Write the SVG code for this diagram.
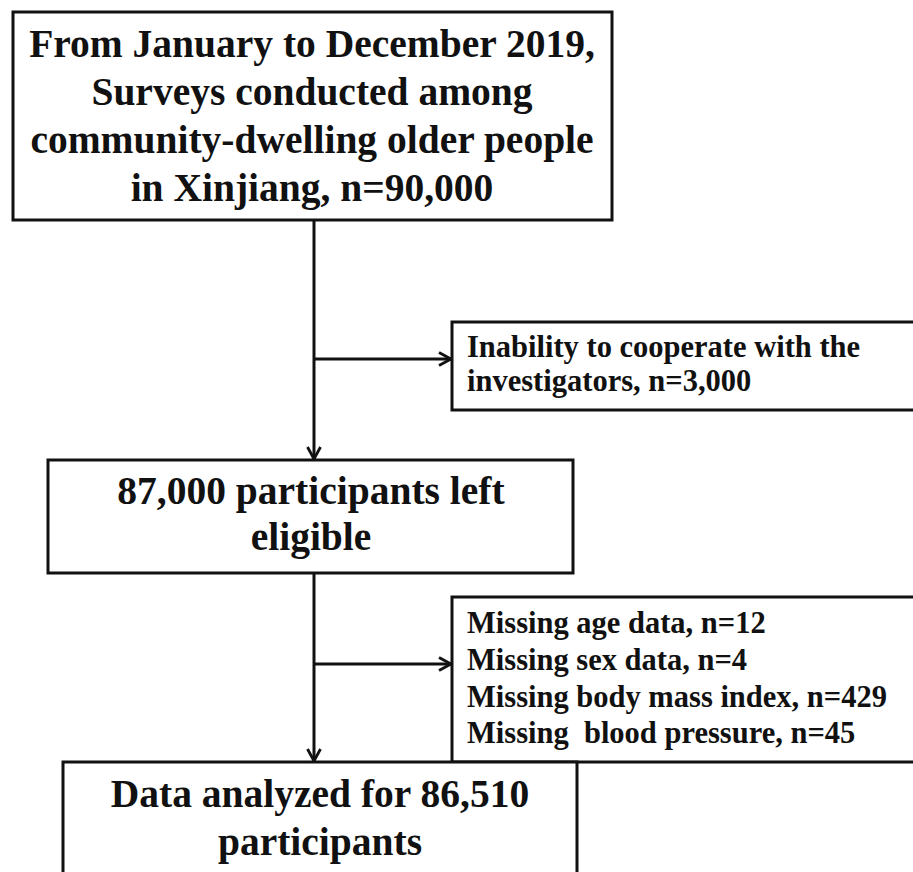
<svg xmlns="http://www.w3.org/2000/svg" width="913" height="872" viewBox="0 0 913 872">
<style>
.box{fill:#fff;stroke:#111;stroke-width:3}
.t{font-family:"Liberation Serif","Times New Roman",serif;font-weight:bold;fill:#111}
.big{font-size:39.5px;text-anchor:middle}
.sm{font-size:30.5px}
.ln{stroke:#111;stroke-width:3;fill:none}
</style>
<defs>
<marker id="ah" viewBox="0 0 16 16" refX="14" refY="8" markerWidth="16" markerHeight="16" markerUnits="userSpaceOnUse" orient="auto">
<path d="M2,1.5 L14,8 L2,14.5" fill="none" stroke="#111" stroke-width="2.8"/>
</marker>
</defs>
<rect width="913" height="872" fill="#fff"/>
<g id="connectors">
<line class="ln" x1="314" y1="220" x2="314" y2="459" marker-end="url(#ah)"/>
<line class="ln" x1="314" y1="359" x2="451" y2="359" marker-end="url(#ah)"/>
<line class="ln" x1="314" y1="573" x2="314" y2="761" marker-end="url(#ah)"/>
<line class="ln" x1="314" y1="664" x2="451" y2="664" marker-end="url(#ah)"/>
</g>
<g id="n1">
<rect class="box" x="13" y="12" width="599" height="208"/>
<text class="t big" x="312" y="57">From January to December 2019,</text>
<text class="t big" x="312" y="105">Surveys conducted among</text>
<text class="t big" x="312" y="153">community-dwelling older people</text>
<text class="t big" x="312" y="201">in Xinjiang, n=90,000</text>
</g>
<g id="n2">
<rect class="box" x="452" y="322" width="470" height="88"/>
<text class="t sm" x="467" y="357">Inability to cooperate with the</text>
<text class="t sm" x="467" y="391">investigators, n=3,000</text>
</g>
<g id="n3">
<rect class="box" x="48" y="460" width="525" height="113"/>
<text class="t big" x="311" y="504">87,000 participants left</text>
<text class="t big" x="311" y="550">eligible</text>
</g>
<g id="n4">
<rect class="box" x="452" y="597" width="470" height="165"/>
<text class="t sm" x="467" y="633">Missing age data, n=12</text>
<text class="t sm" x="467" y="670">Missing sex data, n=4</text>
<text class="t sm" x="467" y="707">Missing body mass index, n=429</text>
<text class="t sm" x="467" y="743" xml:space="preserve">Missing  blood pressure, n=45</text>
</g>
<g id="n5">
<rect class="box" x="63" y="762" width="514" height="130"/>
<text class="t big" x="320" y="807">Data analyzed for 86,510</text>
<text class="t big" x="320" y="855">participants</text>
</g>
</svg>
